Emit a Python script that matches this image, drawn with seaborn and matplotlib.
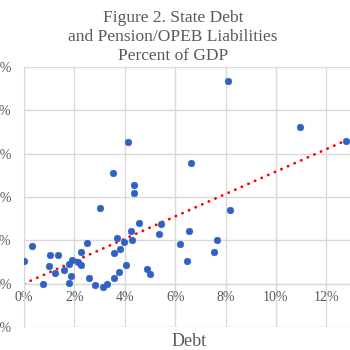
import numpy as np
import pandas as pd
import matplotlib
matplotlib.use("Agg")
import matplotlib.pyplot as plt
import seaborn as sns
from matplotlib.ticker import FuncFormatter, MultipleLocator

# Data (percent of GDP)
debt = [0.0, 0.3, 0.77, 1.03, 0.98, 1.24, 1.36, 1.6, 1.77, 1.85, 1.8, 1.92,
        2.15, 2.26, 2.26, 2.51, 2.57, 2.83, 3.03, 3.15, 3.3, 3.58, 3.58, 3.68,
        3.8, 3.77, 3.97, 4.03, 4.23, 4.3, 4.38, 4.38, 4.55, 4.9, 5.0, 5.36,
        5.45, 6.18, 6.47, 6.56, 6.61, 7.53, 7.67, 8.17, 8.08, 10.94, 12.78,
        3.52, 4.13]
liabilities = [5.3, 8.8, 0.0, 6.7, 4.1, 2.4, 6.6, 3.2, 0.2, 1.8, 4.6, 5.5,
               4.9, 4.2, 7.2, 9.5, 1.2, -0.3, 17.4, -0.7, 0.0, 1.3, 7.0, 10.5,
               8.0, 2.6, 9.6, 4.3, 12.2, 10.1, 22.7, 20.9, 14.0, 3.5, 2.2, 11.5,
               13.7, 9.1, 5.3, 12.2, 27.9, 7.2, 10.1, 17.1, 46.8, 36.2, 32.9,
               25.6, 32.7]
title_lines = ["Figure 2. State Debt", "and Pension/OPEB Liabilities", "Percent of GDP"]
x_label = "Debt"

df = pd.DataFrame({"Debt": debt, "Liabilities": liabilities})

sns.set_style("white")
plt.rcParams["font.family"] = ["Liberation Serif", "DejaVu Serif"]

fig = plt.figure(figsize=(3.5, 3.5), dpi=100)
ax = fig.add_axes([24 / 350, 23 / 350, 326 / 350, 260 / 350])

grey = "#595959"
gridc = "#D9D9D9"

# trend line through origin (Excel linear trend, intercept 0)
x = np.array(debt)
y = np.array(liabilities)
slope = np.sum(x * y) / np.sum(x * x)
tx = np.array([0.0, x.max()])
ax.plot(tx, slope * tx, color="#FF0000", lw=2.0,
        linestyle=(0, (0.1, 2.5)), dash_capstyle="round", zorder=2)

sns.scatterplot(data=df, x="Debt", y="Liabilities", ax=ax, color="#2F62C4",
                s=24, edgecolor="#2F62C4", linewidth=0.3, zorder=3)

ax.set_xlim(0, 12.94)
ax.set_ylim(-10, 50)
ax.xaxis.set_major_locator(MultipleLocator(2))
ax.yaxis.set_major_locator(MultipleLocator(10))
fmt = FuncFormatter(lambda v, p: f"{v:.0f}%")
ax.xaxis.set_major_formatter(fmt)
ax.yaxis.set_major_formatter(fmt)

ax.grid(True, color=gridc, lw=1.0)
ax.set_axisbelow(True)
for s in ["top", "right"]:
    ax.spines[s].set_visible(False)
ax.spines["left"].set_color(gridc)
ax.spines["bottom"].set_color(gridc)
ax.spines["bottom"].set_position(("data", 0))
ax.tick_params(axis="x", length=0, pad=5, labelsize=10, labelcolor=grey)
ax.tick_params(axis="y", length=0, pad=9, labelsize=10, labelcolor=grey)
ax.set_xlabel("")
ax.set_ylabel("")

fig.text(173 / 350, 1 - 37 / 350, "\n".join(title_lines), ha="center",
         va="center", fontsize=12.5, color=grey, linespacing=1.25)
fig.text(189 / 350, 1 - 341 / 350, x_label, ha="center", va="center",
         fontsize=13, color=grey)

fig.savefig("out.png", dpi=100)
